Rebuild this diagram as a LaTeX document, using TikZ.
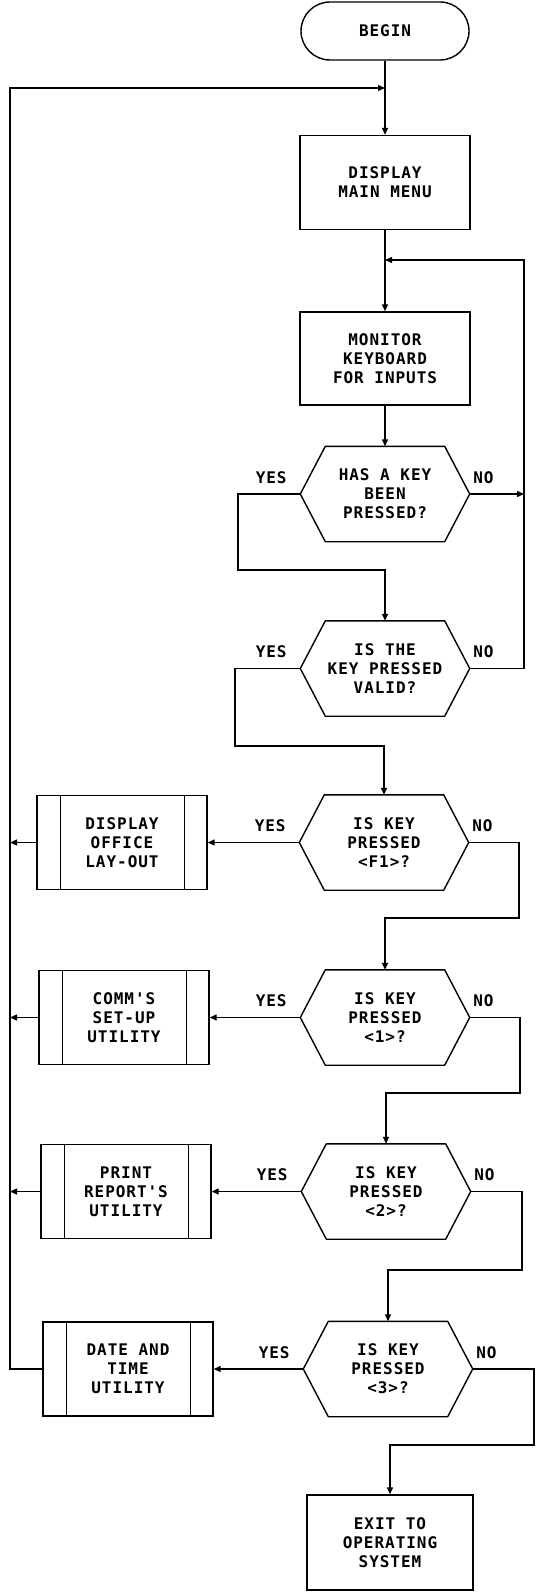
\documentclass[tikz,border=0pt]{standalone}
\usepackage{fontspec}
\newfontfamily\plotfont[LetterSpace=6]{DejaVu Sans Mono}
\usetikzlibrary{arrows.meta}
\tikzset{
  txt/.style={font=\plotfont\bfseries\fontsize{16}{19}\selectfont, align=center, inner sep=0pt},
  term/.style={txt, draw, rounded corners=29pt, minimum width=168pt, minimum height=58pt},
  procbox/.style={txt, draw, minimum width=170pt, minimum height=94pt},
  hexbox/.style={txt, minimum width=168pt, minimum height=94pt,
    append after command={\pgfextra{\draw[line join=round]
      (\tikzlastnode.west) -- ([xshift=25pt]\tikzlastnode.north west)
      -- ([xshift=-25pt]\tikzlastnode.north east) -- (\tikzlastnode.east)
      -- ([xshift=-25pt]\tikzlastnode.south east)
      -- ([xshift=25pt]\tikzlastnode.south west) -- cycle;}}},
  subbox/.style={procbox,
    append after command={\pgfextra{
      \draw[line width=0.9pt] ([xshift=24pt]\tikzlastnode.north west) -- ([xshift=24pt]\tikzlastnode.south west);
      \draw[line width=0.9pt] ([xshift=-23pt]\tikzlastnode.north east) -- ([xshift=-23pt]\tikzlastnode.south east);}}},
  lbl/.style={txt},
  conn/.style={-{Triangle[length=7pt,width=6pt]}},
}
\begin{document}
\begin{tikzpicture}[x=1pt,y=-1pt,line width=1.4pt]
\fill[white] (0,0) rectangle (536,1592);
\useasboundingbox (0,0) rectangle (536,1592);

% main column
\node[term] (begin) at (385,31) {BEGIN};
\node[procbox] (menu) at (385,182.5) {DISPLAY\\MAIN MENU};
\node[procbox, minimum height=93pt] (mon) at (385,358.5) {MONITOR\\KEYBOARD\\FOR INPUTS};
\node[hexbox] (d1) at (385,494) {HAS A KEY\\BEEN\\PRESSED?};
\node[hexbox] (d2) at (385,668.5) {IS THE\\KEY PRESSED\\VALID?};
\node[hexbox] (d3) at (384,842.5) {IS KEY\\PRESSED\\<F1>?};
\node[hexbox] (d4) at (385,1017.5) {IS KEY\\PRESSED\\<1>?};
\node[hexbox] (d5) at (386,1191.5) {IS KEY\\PRESSED\\<2>?};
\node[hexbox] (d6) at (388,1369) {IS KEY\\PRESSED\\<3>?};
\node[procbox, minimum width=166pt, minimum height=95pt] (exit) at (390,1542.5) {EXIT TO\\OPERATING\\SYSTEM};

% subroutine boxes
\node[subbox] (p1) at (122,842.5) {DISPLAY\\OFFICE\\LAY-OUT};
\node[subbox] (p2) at (124,1017.5) {COMM'S\\SET-UP\\UTILITY};
\node[subbox] (p3) at (126,1191.5) {PRINT\\REPORT'S\\UTILITY};
\node[subbox] (p4) at (128,1369) {DATE AND\\TIME\\UTILITY};

% YES / NO labels
\foreach \d in {d1,d2,d3,d4,d5,d6}{
  \node[lbl, anchor=base east] at ([xshift=-13pt,yshift=11pt]\d.west) {YES};
  \node[lbl, anchor=base west] at ([xshift=3pt,yshift=11pt]\d.east) {NO};
}

% helper coordinates
\coordinate (j1) at (385,88);
\coordinate (j2) at (385,260);
\coordinate (ltop) at (10,88);
\coordinate (rtop) at (524,260);
\coordinate (y1) at (238,570);
\coordinate (y2) at (235,746);
\coordinate (n3) at (519,918);
\coordinate (n4) at (520,1093);
\coordinate (n5) at (522,1270);
\coordinate (n6) at (534,1445);

% connectors
\draw[conn] (begin) -- (menu);
\draw[conn] (menu) -- (mon);
\draw[conn] (mon) -- (d1.north);
\draw[conn] (d1.west) -| (y1) -| (d2.north);
\draw[conn] (d1.east) -- (d1.east -| rtop);
\draw[conn] (d2.east) -| (rtop) -- (j2);
\draw[conn] (d2.west) -| (y2) -| (d3.north);
\draw[conn] (d3.west) -- (p1.east);
\draw[conn] (d4.west) -- (p2.east);
\draw[conn] (d5.west) -- (p3.east);
\draw[conn] (d6.west) -- (p4.east);
\draw[conn] (d3.east) -| (n3) -| (d4.north);
\draw[conn] (d4.east) -| (n4) -| (d5.north);
\draw[conn] (d5.east) -| (n5) -| (d6.north);
\draw[conn] (d6.east) -| (n6) -| (exit.north);
\draw[conn] (p1.west) -- (p1.west -| ltop);
\draw[conn] (p2.west) -- (p2.west -| ltop);
\draw[conn] (p3.west) -- (p3.west -| ltop);
\draw[conn] (p4.west) -| (ltop) -- (j1);
\end{tikzpicture}
\end{document}
